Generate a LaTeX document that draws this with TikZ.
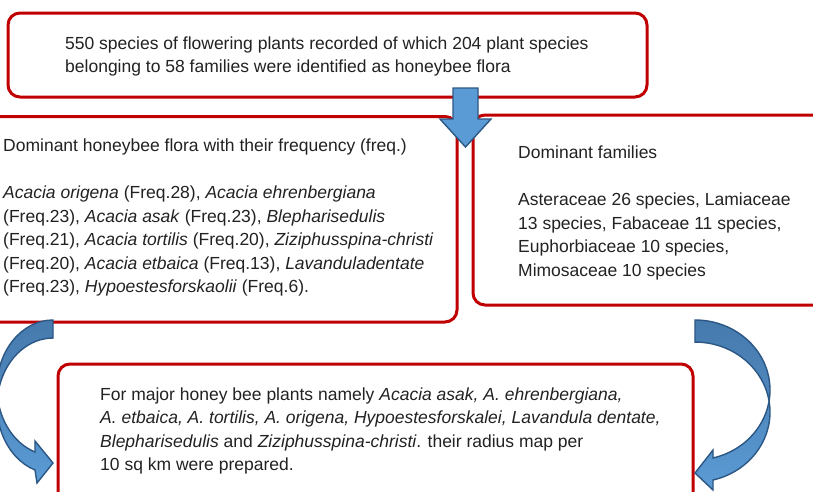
\documentclass[tikz,border=0pt]{standalone}
\usepackage{fontspec}
\setmainfont{Liberation Sans}
\definecolor{boxred}{HTML}{C00000}
\definecolor{arrowfill}{HTML}{5B9BD5}
\definecolor{arrowdark}{HTML}{467AAD}
\definecolor{arrowline}{HTML}{2C5785}
\definecolor{txt}{HTML}{222222}
\begin{document}
\begin{tikzpicture}[x=1pt,y=-1pt,
  box/.style={draw=boxred, line width=3pt, rounded corners=12pt, fill=white, inner sep=0pt},
  txtnode/.style={inner sep=0pt, align=left, anchor=west, text=txt, font=\fontsize{17.5}{23.6}\selectfont},
  blockarrow/.style={draw=arrowline, line width=1.4pt, fill=arrowfill, line join=miter},
  curvearrow/.style={draw=arrowline, line width=1.4pt, top color=arrowdark, bottom color=arrowfill, middle color=arrowdark!55!arrowfill, line join=miter}]
\useasboundingbox (0,0) rectangle (813,491);
\fill[white] (0,0) rectangle (813,491);
\clip (0,0) rectangle (813,491);

% boxes
\node[box, minimum width=639pt, minimum height=84pt] (topbox) at (327.5,55) {};
\node[box, minimum width=472pt, minimum height=205.5pt] (leftbox) at (221,219.25) {};
\node[box, minimum width=362pt, minimum height=190pt] (rightbox) at (654,210) {};
\node[box, minimum width=635pt, minimum height=156pt] (botbox) at (375.5,442) {};

% texts
\node[txtnode] (ttop) at (65,56.5) {550 species of flowering plants recorded of which 204 plant species\\belonging to 58 families were identified as honeybee flora};
\node[txtnode] (tleft) at (3,217.5) {Dominant honeybee flora with their frequency (freq.)\\[23.6pt]
\textit{Acacia origena} (Freq.28), \textit{Acacia ehrenbergiana}\\
(Freq.23), \textit{Acacia asak} (Freq.23), \textit{Blepharisedulis}\\
(Freq.21), \textit{Acacia tortilis} (Freq.20), \textit{Ziziphusspina-christi}\\
(Freq.20), \textit{Acacia etbaica} (Freq.13), \textit{Lavanduladentate}\\
(Freq.23), \textit{Hypoestesforskaolii} (Freq.6).};
\node[txtnode] (tright) at (518,213) {Dominant families\\[23.6pt]
Asteraceae 26 species, Lamiaceae\\
13 species, Fabaceae 11 species,\\
Euphorbiaceae 10 species,\\
Mimosaceae 10 species};
\node[txtnode] (tbot) at (100,431) {For major honey bee plants namely \textit{Acacia asak, A. ehrenbergiana,}\\
\textit{A. etbaica, A. tortilis, A. origena, Hypoestesforskalei, Lavandula dentate,}\\
\textit{Blepharisedulis} and \textit{Ziziphusspina-christi}. their radius map per\\
10 sq km were prepared.};

% down block arrow
\path[blockarrow] (453,88) -- (478,88) -- (478,119) -- (491,119) -- (465.5,147) -- (440,119) -- (453,119) -- cycle;

% left curved arrow
\path[curvearrow] (53,320) arc[start angle=-90, end angle=-251.2, x radius=56, y radius=67.8]
  -- (35,441) -- (53,463) -- (37,483) -- (35,470)
  arc[start angle=-251.2, end angle=-90, x radius=56, y radius=67.8] -- cycle;

% right curved arrow
\path[curvearrow] (695,320) arc[start angle=-90, end angle=76.1, x radius=75, y radius=70]
  -- (713,450) -- (695,473) -- (713,490) -- (713,480)
  arc[start angle=76.1, end angle=-90, x radius=75, y radius=70] -- cycle;
\end{tikzpicture}
\end{document}
